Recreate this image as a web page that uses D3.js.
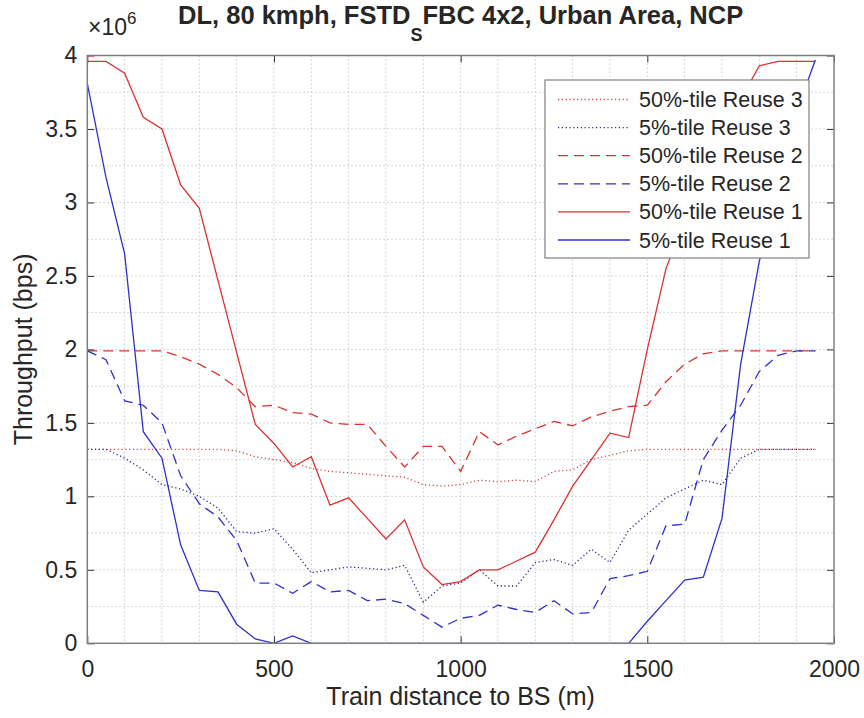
<!DOCTYPE html>
<html>
<head>
<meta charset="utf-8">
<script src="https://cdn.jsdelivr.net/npm/d3@7"></script>
<style>
  body { margin: 0; background: #fff; }
  text { font-family: "Liberation Sans", Arial, sans-serif; fill: #262626; }
</style>
</head>
<body>
<script>

// train distance to BS (m)
var distance = [0, 50, 100, 150, 200, 250, 300, 350, 400, 450,
                500, 550, 600, 650, 700, 750, 800, 850, 900, 950,
                1000, 1050, 1100, 1150, 1200, 1250, 1300, 1350, 1400, 1450,
                1500, 1550, 1600, 1650, 1700, 1750, 1800, 1850, 1900, 1950];

// throughput, in units of 10^6 bps
var p50Reuse3 = [1.32, 1.32, 1.32, 1.32, 1.32, 1.32, 1.32, 1.32, 1.31, 1.27,
                 1.25, 1.23, 1.19, 1.17, 1.16, 1.15, 1.14, 1.13, 1.08, 1.07,
                 1.08, 1.11, 1.10, 1.11, 1.10, 1.17, 1.18, 1.25, 1.28, 1.31,
                 1.32, 1.32, 1.32, 1.32, 1.32, 1.32, 1.32, 1.32, 1.32, 1.32];
var p5Reuse3 = [1.32, 1.32, 1.26, 1.18, 1.08, 1.05, 1.00, 0.92, 0.76, 0.75,
                0.78, 0.64, 0.48, 0.50, 0.52, 0.51, 0.50, 0.53, 0.28, 0.39,
                0.41, 0.50, 0.39, 0.39, 0.55, 0.57, 0.53, 0.64, 0.55, 0.77,
                0.88, 0.99, 1.05, 1.11, 1.08, 1.26, 1.32, 1.32, 1.32, 1.32];
var p50Reuse2 = [1.99, 1.99, 1.99, 1.99, 1.99, 1.95, 1.90, 1.83, 1.74, 1.61,
                 1.62, 1.57, 1.56, 1.50, 1.49, 1.49, 1.34, 1.20, 1.34, 1.34,
                 1.17, 1.44, 1.35, 1.41, 1.46, 1.51, 1.48, 1.54, 1.58, 1.61,
                 1.62, 1.78, 1.90, 1.97, 1.99, 1.99, 1.99, 1.99, 1.99, 1.99];
var p5Reuse2 = [1.99, 1.93, 1.65, 1.62, 1.50, 1.14, 0.95, 0.86, 0.70, 0.41,
                0.41, 0.34, 0.42, 0.35, 0.36, 0.29, 0.30, 0.27, 0.19, 0.11,
                0.17, 0.19, 0.26, 0.23, 0.21, 0.29, 0.20, 0.21, 0.44, 0.46,
                0.49, 0.80, 0.81, 1.25, 1.45, 1.62, 1.85, 1.96, 1.99, 1.99];
var p50Reuse1 = [3.96, 3.96, 3.88, 3.58, 3.50, 3.12, 2.96, 2.47, 1.98, 1.49,
                 1.36, 1.20, 1.27, 0.94, 0.99, 0.85, 0.71, 0.84, 0.52, 0.40,
                 0.42, 0.50, 0.50, 0.56, 0.62, 0.84, 1.07, 1.25, 1.43, 1.40,
                 2.00, 2.55, 2.88, 3.17, 3.45, 3.70, 3.93, 3.96, 3.96, 3.96];
var p5Reuse1 = [3.81, 3.17, 2.65, 1.44, 1.26, 0.67, 0.36, 0.35, 0.13, 0.03,
                0.00, 0.05, 0.00, 0.00, 0.00, 0.00, 0.00, 0.00, 0.00, 0.00,
                0.00, 0.00, 0.00, 0.00, 0.00, 0.00, 0.00, 0.00, 0.00, 0.00,
                0.15, 0.29, 0.43, 0.45, 0.85, 1.90, 2.60, 3.08, 3.62, 3.97];

var seriesNames = ["50%-tile Reuse 3", "5%-tile Reuse 3", "50%-tile Reuse 2",
                   "5%-tile Reuse 2", "50%-tile Reuse 1", "5%-tile Reuse 1"];

var xTicks = [0, 500, 1000, 1500, 2000];
var yTicks = [0, 0.5, 1, 1.5, 2, 2.5, 3, 3.5, 4];
var xGrid = [100, 200, 300, 400, 500, 600, 700, 800, 900, 1000,
             1100, 1200, 1300, 1400, 1500, 1600, 1700, 1800, 1900];
var yGrid = [0.25, 0.5, 0.75, 1, 1.25, 1.5, 1.75, 2, 2.25, 2.5,
             2.75, 3, 3.25, 3.5, 3.75];

var red = "#db3232", blue = "#3030c8";

// line styles in plotting order
var styles = [
    {color: "#c84646", dash: "1.2,2.6", width: 1.3},
    {color: "#26267a", dash: "1.2,2.6", width: 1.3},
    {color: red, dash: "10,6", width: 1.3},
    {color: blue, dash: "10,6", width: 1.3},
    {color: red, dash: null, width: 1.3},
    {color: blue, dash: null, width: 1.3}
];
var values = [p50Reuse3, p5Reuse3, p50Reuse2, p5Reuse2, p50Reuse1, p5Reuse1];

var series = seriesNames.map(function(name, i) {
    return {
        name: name,
        style: styles[i],
        points: distance.map(function(d, j) { return [d, values[i][j]]; })
    };
});

var W = 864, H = 718;
var plot = {left: 87.3, right: 834, top: 55.5, bottom: 643.3};

var svg = d3.select("body").append("svg")
    .attr("width", W)
    .attr("height", H);

svg.append("rect").attr("width", W).attr("height", H).attr("fill", "#fff");

var x = d3.scaleLinear().domain([0, 2000]).range([plot.left, plot.right]);
var y = d3.scaleLinear().domain([0, 4]).range([plot.bottom, plot.top]);

// dotted grid (major + minor)
svg.append("g").selectAll("line")
    .data(xGrid)
    .enter().append("line")
    .attr("x1", function(d) { return x(d); })
    .attr("x2", function(d) { return x(d); })
    .attr("y1", plot.top)
    .attr("y2", plot.bottom)
    .attr("stroke", "#c9c9c9")
    .attr("stroke-dasharray", "1.5,2.5");

svg.append("g").selectAll("line")
    .data(yGrid)
    .enter().append("line")
    .attr("x1", plot.left)
    .attr("x2", plot.right)
    .attr("y1", function(d) { return y(d); })
    .attr("y2", function(d) { return y(d); })
    .attr("stroke", "#c9c9c9")
    .attr("stroke-dasharray", "1.5,2.5");

// series
var line = d3.line()
    .x(function(d) { return x(d[0]); })
    .y(function(d) { return y(d[1]); });

svg.append("g").selectAll("path")
    .data(series)
    .enter().append("path")
    .attr("d", function(d) { return line(d.points); })
    .attr("fill", "none")
    .attr("stroke", function(d) { return d.style.color; })
    .attr("stroke-width", function(d) { return d.style.width; })
    .attr("stroke-dasharray", function(d) { return d.style.dash; });

// axes with inward ticks on all sides
var tickLen = 7;
var bottomAxis = d3.axisBottom(x).tickValues(xTicks).tickSize(-tickLen).tickPadding(17)
    .tickFormat(d3.format("d"));
var topAxis = d3.axisTop(x).tickValues(xTicks).tickSize(-tickLen).tickFormat("");
var leftAxis = d3.axisLeft(y).tickValues(yTicks).tickSize(-tickLen).tickPadding(10)
    .tickFormat(d3.format("~g"));
var rightAxis = d3.axisRight(y).tickValues(yTicks).tickSize(-tickLen).tickFormat("");

function styleAxis(g) {
    g.select(".domain").remove();
    g.selectAll(".tick line").attr("stroke", "#333").attr("stroke-width", 1);
    g.selectAll(".tick text")
        .attr("font-family", "Liberation Sans, Arial, sans-serif")
        .attr("font-size", 23)
        .attr("fill", "#262626");
}

svg.append("g").attr("transform", "translate(0," + plot.bottom + ")").call(bottomAxis).call(styleAxis);
svg.append("g").attr("transform", "translate(0," + plot.top + ")").call(topAxis).call(styleAxis);
svg.append("g").attr("transform", "translate(" + plot.left + ",0)").call(leftAxis).call(styleAxis);
svg.append("g").attr("transform", "translate(" + plot.right + ",0)").call(rightAxis).call(styleAxis);

// axes box
svg.append("rect")
    .attr("x", plot.left)
    .attr("y", plot.top)
    .attr("width", plot.right - plot.left)
    .attr("height", plot.bottom - plot.top)
    .attr("fill", "none")
    .attr("stroke", "#808080")
    .attr("stroke-width", 1.5);

// exponent label
var expo = svg.append("text")
    .attr("x", 88)
    .attr("y", 35)
    .attr("font-size", 23);
expo.append("tspan").text("\u00d710");
expo.append("tspan").attr("dy", -11).attr("font-size", 17).text("6");

// title
var title = svg.append("text")
    .attr("x", (plot.left + plot.right) / 2)
    .attr("y", 24)
    .attr("text-anchor", "middle")
    .attr("font-size", 25.5)
    .attr("font-weight", "bold")
    .attr("fill", "#000");
title.append("tspan").text("DL, 80 kmph, FSTD");
title.append("tspan").attr("dy", 17).attr("font-size", 18).text("S");
title.append("tspan").attr("dy", -17).text("FBC 4x2, Urban Area, NCP");

// axis titles
svg.append("text")
    .attr("x", (plot.left + plot.right) / 2)
    .attr("y", 705)
    .attr("text-anchor", "middle")
    .attr("font-size", 25)
    .text("Train distance to BS (m)");

svg.append("text")
    .attr("transform", "translate(32," + ((plot.top + plot.bottom) / 2) + ") rotate(-90)")
    .attr("text-anchor", "middle")
    .attr("font-size", 25)
    .text("Throughput (bps)");

// legend
var legend = svg.append("g");
legend.append("rect")
    .attr("x", 545)
    .attr("y", 80)
    .attr("width", 264)
    .attr("height", 178)
    .attr("fill", "#fff")
    .attr("stroke", "#808080")
    .attr("stroke-width", 1.2);

var rowY = d3.scaleLinear().domain([0, 5]).range([99.5, 240]);

var rows = legend.selectAll(".row")
    .data(series)
    .enter().append("g")
    .attr("class", "row")
    .attr("transform", function(d, i) { return "translate(0," + rowY(i) + ")"; });

rows.append("line")
    .attr("x1", 558)
    .attr("x2", 630)
    .attr("stroke", function(d) { return d.style.color; })
    .attr("stroke-width", function(d) { return d.style.width; })
    .attr("stroke-dasharray", function(d) { return d.style.dash; });

rows.append("text")
    .attr("x", 639)
    .attr("y", 7.5)
    .attr("font-size", 21.5)
    .text(function(d) { return d.name; });

</script>
</body>
</html>
